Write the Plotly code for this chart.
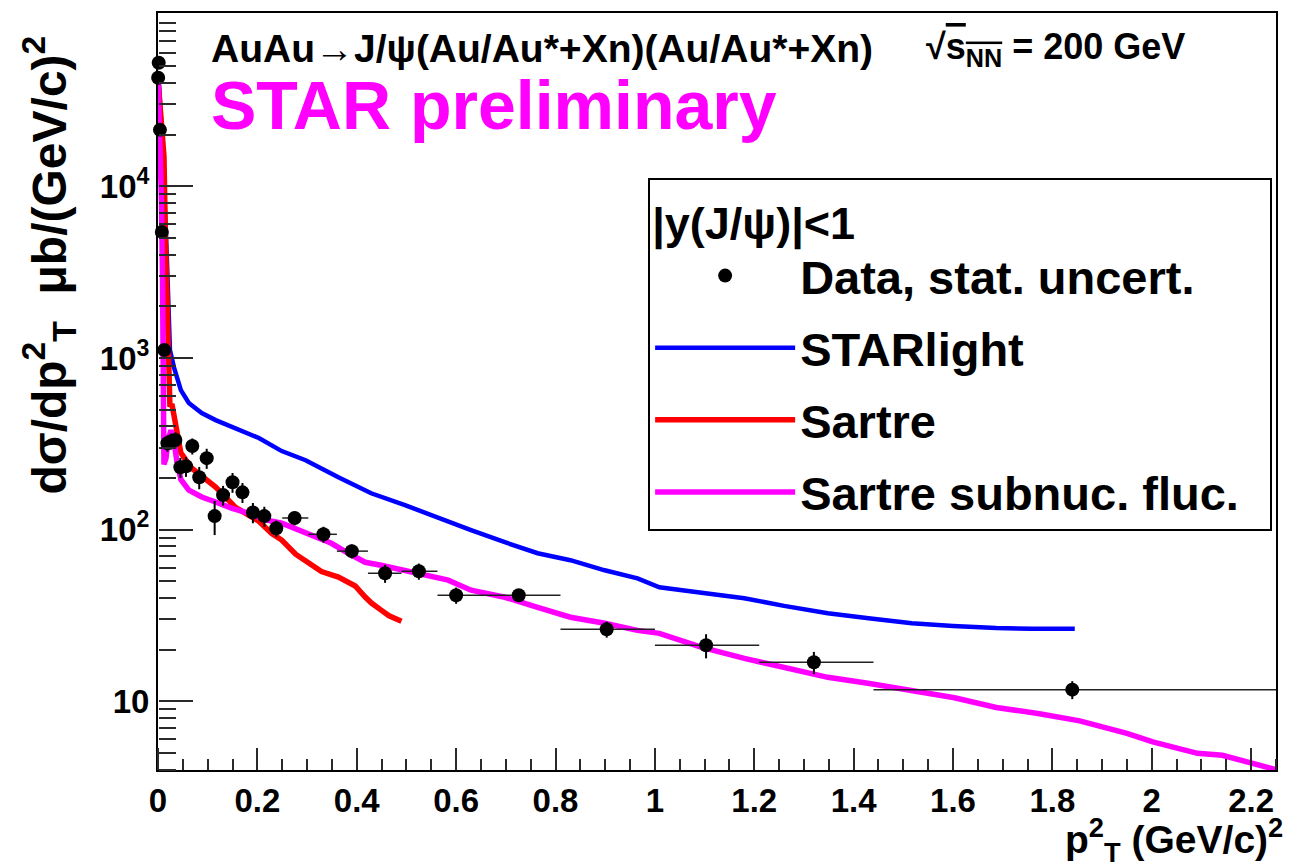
import plotly.graph_objects as go

# ---- measured J/psi cross section, binned in pT (GeV/c) ----
pt_edges = [0.0, 0.025, 0.05, 0.075, 0.1, 0.125, 0.15, 0.175, 0.2, 0.225, 0.25,
            0.275, 0.3, 0.325, 0.35, 0.375, 0.4, 0.425, 0.45, 0.475, 0.5,
            0.55, 0.6, 0.65, 0.7, 0.75, 0.8, 0.9, 1.0, 1.1, 1.2, 1.5]
data_pt2 = [0.0003, 0.0014, 0.0039, 0.0077, 0.0127, 0.019, 0.0264, 0.035, 0.045,
            0.0564, 0.069, 0.083, 0.098, 0.114, 0.131, 0.150, 0.170, 0.191, 0.214,
            0.238, 0.275, 0.333, 0.390, 0.457, 0.525, 0.600, 0.726, 0.903, 1.103,
            1.320, 1.840]
data_xsec = [42950, 52500, 21340, 5430, 1114, 319, 328, 333, 231, 234, 307, 202,
             261, 120, 159, 189, 165, 126, 120, 102, 117, 94, 75, 55.7, 57.3, 41.5,
             41.5, 26.3, 21.2, 16.9, 11.7]
data_stat = [900, 1100, 600, 200, 60, 34, 35, 36, 31, 31, 33, 30, 35, 27, 21, 25,
             22, 17, 16, 11, 11, 10, 7, 6.7, 6.2, 4.5, 2.8, 2.8, 3.4, 2.5, 1.4]

# ---- model predictions ----
starlight_pt2 = [0.0005, 0.002, 0.008, 0.014, 0.018, 0.022, 0.024, 0.032, 0.046,
                 0.062, 0.088, 0.116, 0.162, 0.203, 0.249, 0.297, 0.363, 0.429,
                 0.497, 0.564, 0.630, 0.698, 0.764, 0.830, 0.899, 0.965, 1.009,
                 1.090, 1.180, 1.260, 1.348, 1.430, 1.517, 1.600, 1.687, 1.760, 1.845]
starlight_xsec = [40500, 39600, 19500, 8340, 3720, 1667, 1114, 885, 650, 547, 478,
                  435, 380, 342, 287, 254, 202, 163, 139, 117, 99.3, 84.5, 72.9,
                  66.4, 58.0, 52.0, 46.2, 43.0, 39.9, 36.0, 32.6, 30.5, 28.5, 27.5,
                  26.7, 26.5, 26.5]

sartre_pt2 = [0.0005, 0.006, 0.012, 0.015, 0.017, 0.020, 0.022, 0.024, 0.028, 0.032,
              0.036, 0.040, 0.046, 0.068, 0.096, 0.116, 0.156, 0.203, 0.229, 0.249,
              0.277, 0.297, 0.329, 0.363, 0.383, 0.397, 0.417, 0.429, 0.449, 0.465,
              0.490]
sartre_xsec = [40000, 25000, 15000, 5000, 3000, 1500, 800, 520, 540, 470, 380, 330,
               280, 228, 195, 177, 135, 112, 95, 87, 72, 66, 57, 53, 49, 47, 40.5,
               37.5, 34, 31.5, 29.3]

fluc_pt2 = [0.0003, 0.004, 0.007, 0.009, 0.010, 0.011, 0.012, 0.016, 0.020, 0.026,
            0.032, 0.038, 0.046, 0.062, 0.088, 0.116, 0.149, 0.182, 0.217, 0.249,
            0.283, 0.317, 0.349, 0.383, 0.417, 0.449, 0.517, 0.584, 0.630, 0.698,
            0.764, 0.830, 0.899, 0.965, 1.009, 1.093, 1.180, 1.264, 1.348, 1.432,
            1.517, 1.603, 1.687, 1.771, 1.855, 1.950, 2.002, 2.092, 2.142, 2.195, 2.25]
fluc_xsec = [40000, 20000, 8000, 3000, 1200, 500, 240, 260, 330, 380, 330, 250, 196,
             170, 155, 145, 133, 125, 114, 109, 99.3, 90.4, 83.3, 72.9, 64.6, 62.1,
             56.5, 50.8, 44.4, 40.4, 35.3, 30.9, 28.5, 25.9, 24.9, 20.7, 17.8, 15.8,
             13.8, 12.7, 11.6, 10.5, 9.2, 8.5, 7.7, 6.5, 5.8, 4.98, 4.85, 4.4, 4.0]

x_ticks = [0, 0.2, 0.4, 0.6, 0.8, 1.0, 1.2, 1.4, 1.6, 1.8, 2.0, 2.2]
x_ticktext = ["0", "0.2", "0.4", "0.6", "0.8", "1", "1.2", "1.4", "1.6", "1.8", "2", "2.2"]
x_minor_ticks = [0.05, 0.1, 0.15, 0.25, 0.3, 0.35, 0.45, 0.5, 0.55, 0.65, 0.7, 0.75,
                 0.85, 0.9, 0.95, 1.05, 1.1, 1.15, 1.25, 1.3, 1.35, 1.45, 1.5, 1.55,
                 1.65, 1.7, 1.75, 1.85, 1.9, 1.95, 2.05, 2.1, 2.15, 2.25]
y_ticks = [10, 100, 1000, 10000]
y_ticktext = ["10", "10<sup>2</sup>", "10<sup>3</sup>", "10<sup>4</sup>"]
y_minor_ticks = [4, 5, 6, 7, 8, 9, 20, 30, 40, 50, 60, 70, 80, 90,
                 200, 300, 400, 500, 600, 700, 800, 900,
                 2000, 3000, 4000, 5000, 6000, 7000, 8000, 9000,
                 20000, 30000, 40000, 50000, 60000, 70000, 80000, 90000]

FONT = "Liberation Sans"
TICK_COLOR = "#2a2a2a"
X_RANGE = [0, 2.25]
Y_RANGE = [0.6, 5.01]

# horizontal error bars span the pT^2 bin
bin_lo = [e ** 2 for e in pt_edges[:-1]]
bin_hi = [e ** 2 for e in pt_edges[1:]]
xerr_plus = [h - x for h, x in zip(bin_hi, data_pt2)]
xerr_minus = [x - l for l, x in zip(bin_lo, data_pt2)]

fig = go.Figure()

fig.add_trace(go.Scatter(
    x=starlight_pt2, y=starlight_xsec, mode="lines", name="STARlight",
    line=dict(color="#0000ff", width=4.5), legendrank=2, legendgroup="b"))
fig.add_trace(go.Scatter(
    x=sartre_pt2, y=sartre_xsec, mode="lines", name="Sartre",
    line=dict(color="#ff0000", width=5.5), legendrank=3, legendgroup="c"))
fig.add_trace(go.Scatter(
    x=fluc_pt2, y=fluc_xsec, mode="lines",
    name="Sartre subnuc. fluc.\u00a0\u00a0",
    line=dict(color="#ff00ff", width=5.5), legendrank=4, legendgroup="d"))
fig.add_trace(go.Scatter(
    x=data_pt2, y=data_xsec, mode="markers", name="Data, stat. uncert.",
    marker=dict(color="black", size=14),
    error_y=dict(type="data", array=data_stat, color="black", thickness=2, width=0),
    error_x=dict(type="data", array=xerr_plus, arrayminus=xerr_minus,
                 color="#222222", thickness=1.5, width=0),
    cliponaxis=False, legendrank=1, legendgroup="a"))

# Tick-only axes: a top-side x axis pinned to the bottom edge and a right-side
# y axis pinned to the left edge, so their "outside" ticks point into the frame.
tick_axis = dict(showgrid=False, zeroline=False, showline=False, showticklabels=False,
                 ticks="outside", tickwidth=2, tickcolor=TICK_COLOR, tickmode="array",
                 anchor="free", position=0)

fig.update_layout(
    width=1289, height=867,
    margin=dict(l=158, r=11, t=13, b=97),
    paper_bgcolor="white", plot_bgcolor="white",
    font=dict(family=FONT, color="black", weight="bold"),
    xaxis=dict(
        range=X_RANGE, showline=True, mirror=True, linecolor="black", linewidth=2,
        showgrid=False, zeroline=False, ticks="",
        tickmode="array", tickvals=x_ticks, ticktext=x_ticktext,
        tickfont=dict(size=33, family=FONT, weight="bold")),
    yaxis=dict(
        type="log", range=Y_RANGE, showline=True, mirror=True, linecolor="black",
        linewidth=2, showgrid=False, zeroline=False, ticks="",
        tickmode="array", tickvals=y_ticks, ticktext=y_ticktext,
        tickfont=dict(size=33, family=FONT, weight="bold")),
    xaxis2=dict(overlaying="x", side="top", range=X_RANGE, ticklen=22,
                tickvals=x_ticks, **tick_axis),
    xaxis3=dict(overlaying="x", side="top", range=X_RANGE, ticklen=11,
                tickvals=x_minor_ticks, **tick_axis),
    yaxis2=dict(overlaying="y", side="right", type="log", range=Y_RANGE, ticklen=34,
                tickvals=y_ticks, **tick_axis),
    yaxis3=dict(overlaying="y", side="right", type="log", range=Y_RANGE, ticklen=17,
                tickvals=y_minor_ticks, **tick_axis),
    legend=dict(
        x=0.4384, y=0.782, xanchor="left", yanchor="top",
        bgcolor="white", bordercolor="black", borderwidth=2,
        font=dict(size=47, family=FONT, weight="bold"),
        title=dict(text="|y(J/ψ)|<1", font=dict(size=45, family=FONT, weight="bold")),
        traceorder="grouped", tracegroupgap=8, itemwidth=140,
    ),
    showlegend=True,
)

# empty traces that bring the tick-only axes to life
fig.add_trace(go.Scatter(x=[None], y=[None], xaxis="x2", yaxis="y2",
                         showlegend=False, hoverinfo="skip"))
fig.add_trace(go.Scatter(x=[None], y=[None], xaxis="x3", yaxis="y3",
                         showlegend=False, hoverinfo="skip"))

fig.add_annotation(
    text="AuAu→J/ψ(Au/Au*+Xn)(Au/Au*+Xn)", xref="paper", yref="paper",
    x=0.046, y=0.953, xanchor="left", yanchor="middle", showarrow=False,
    font=dict(size=39, family=FONT, weight="bold"))
fig.add_annotation(
    text="√<span style='text-decoration:overline'>s<sub>NN</sub></span> = 200 GeV",
    xref="paper", yref="paper",
    x=0.685, y=0.953, xanchor="left", yanchor="middle", showarrow=False,
    font=dict(size=36, family=FONT, weight="bold"))
fig.add_annotation(
    text="STAR preliminary", xref="paper", yref="paper",
    x=0.046, y=0.878, xanchor="left", yanchor="middle", showarrow=False,
    font=dict(size=68, family=FONT, weight="bold", color="#ff00ff"))
fig.add_annotation(
    text="dσ/dp<sup>2</sup><sub>T</sub>  μb/(GeV/c)<sup>2</sup>",
    xref="paper", yref="paper", textangle=-90,
    x=-0.098, y=0.667, xanchor="center", yanchor="middle", showarrow=False,
    font=dict(size=48, family=FONT, weight="bold"))
fig.add_annotation(
    text="p<sup>2</sup><sub>T</sub> (GeV/c)<sup>2</sup>",
    xref="paper", yref="paper",
    x=1.008, y=-0.093, xanchor="right", yanchor="middle", showarrow=False,
    font=dict(size=39, family=FONT, weight="bold"))

fig.write_html("out.html")
